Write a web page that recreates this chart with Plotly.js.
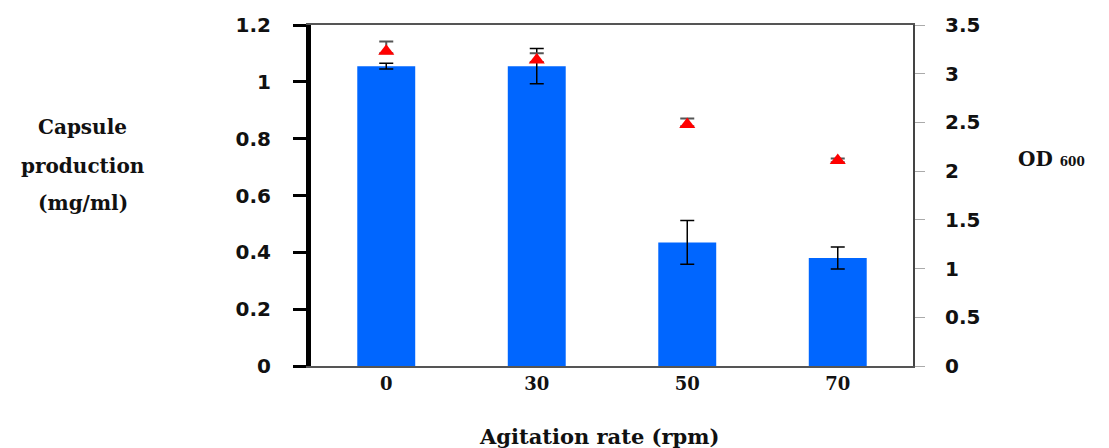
<!DOCTYPE html>
<html>
<head>
<meta charset="utf-8">
<script src="https://cdn.plot.ly/plotly-3.0.1.min.js"></script>
<style>html,body{margin:0;padding:0;background:#fff;}</style>
</head>
<body>
<div id="chart" style="width:1109px;height:448px;"></div>
<script>
// Data
const agitationRates = ['0', '30', '50', '70'];
const capsuleProduction = [1.055, 1.055, 0.435, 0.38];
const capsuleError = [0.01, 0.062, 0.077, 0.039];
const od600 = [3.23, 3.14, 2.48, 2.11];
const od600ErrorUp = [0.1, 0.07, 0.06, 0.02];
const od600ErrorDown = [0.02, 0.02, 0.02, 0.02];
const leftTickVals = [0, 0.2, 0.4, 0.6, 0.8, 1, 1.2];
const leftTickText = ['0', '0.2', '0.4', '0.6', '0.8', '1', '1.2'];
const rightTickVals = [0, 0.5, 1, 1.5, 2, 2.5, 3, 3.5];
const rightTickText = ['0', '0.5', '1', '1.5', '2', '2.5', '3', '3.5'];

const tickFontSans = {family: 'DejaVu Sans', size: 20, weight: 'bold', color: '#111'};
const serifTick = {family: 'DejaVu Serif', size: 18, weight: 'bold', color: '#111'};
const serifTitle = {family: 'DejaVu Serif', size: 20, weight: 'bold', color: '#111'};

const traces = [
  {
    type: 'bar',
    x: agitationRates,
    y: capsuleProduction,
    marker: {color: '#0066FF'},
    error_y: {type: 'data', array: capsuleError, visible: true, color: '#000', thickness: 1.5, width: 7},
    hoverinfo: 'x+y'
  },
  {
    type: 'scatter',
    mode: 'markers',
    x: agitationRates,
    y: od600,
    yaxis: 'y2',
    marker: {symbol: 'triangle-up', size: 14, color: '#FF0000'},
    error_y: {type: 'data', symmetric: false, array: od600ErrorUp, arrayminus: od600ErrorDown, visible: true, color: '#555', thickness: 2, width: 7},
    hoverinfo: 'x+y'
  }
];

const layout = {
  width: 1109,
  height: 448,
  margin: {l: 311, r: 196, t: 25, b: 82},
  paper_bgcolor: '#fff',
  plot_bgcolor: '#fff',
  showlegend: false,
  bargap: 0.615,
  xaxis: {
    type: 'category',
    showline: true,
    linecolor: '#555',
    linewidth: 2,
    mirror: true,
    ticks: '',
    showgrid: false,
    zeroline: false,
    tickfont: serifTick,
    ticklabelstandoff: 0
  },
  yaxis: {
    range: [0, 1.2],
    tickvals: leftTickVals,
    ticktext: leftTickText,
    showline: true,
    linecolor: '#000',
    linewidth: 5,
    ticks: 'outside',
    ticklen: 13,
    tickwidth: 3,
    tickcolor: '#000',
    showgrid: false,
    zeroline: false,
    tickfont: tickFontSans,
    ticklabelstandoff: 18
  },
  yaxis2: {
    overlaying: 'y',
    side: 'right',
    range: [0, 3.5],
    tickvals: rightTickVals,
    ticktext: rightTickText,
    showline: true,
    linecolor: '#444',
    linewidth: 2,
    ticks: 'outside',
    ticklen: 10,
    tickwidth: 1,
    tickcolor: '#aaa',
    showgrid: false,
    zeroline: false,
    tickfont: tickFontSans,
    ticklabelstandoff: 16
  },
  annotations: [
    {text: 'Capsule', xref: 'paper', yref: 'paper', x: -0.379, y: 0.701, xanchor: 'center', yanchor: 'middle', showarrow: false, font: serifTitle},
    {text: 'production', xref: 'paper', yref: 'paper', x: -0.379, y: 0.587, xanchor: 'center', yanchor: 'middle', showarrow: false, font: serifTitle},
    {text: '(mg/ml)', xref: 'paper', yref: 'paper', x: -0.379, y: 0.478, xanchor: 'center', yanchor: 'middle', showarrow: false, font: serifTitle},
    {text: 'OD <span style="font-size:12px">600</span>', xref: 'paper', yref: 'paper', x: 1.171, y: 0.607, xanchor: 'left', yanchor: 'middle', showarrow: false, font: serifTitle},
    {text: 'Agitation rate (rpm)', xref: 'paper', yref: 'paper', x: 0.478, y: -0.208, xanchor: 'center', yanchor: 'middle', showarrow: false, font: {family: 'DejaVu Serif', size: 21, weight: 'bold', color: '#111'}}
  ]
};

Plotly.newPlot('chart', traces, layout, {displayModeBar: false, staticPlot: true});
</script>
</body>
</html>
